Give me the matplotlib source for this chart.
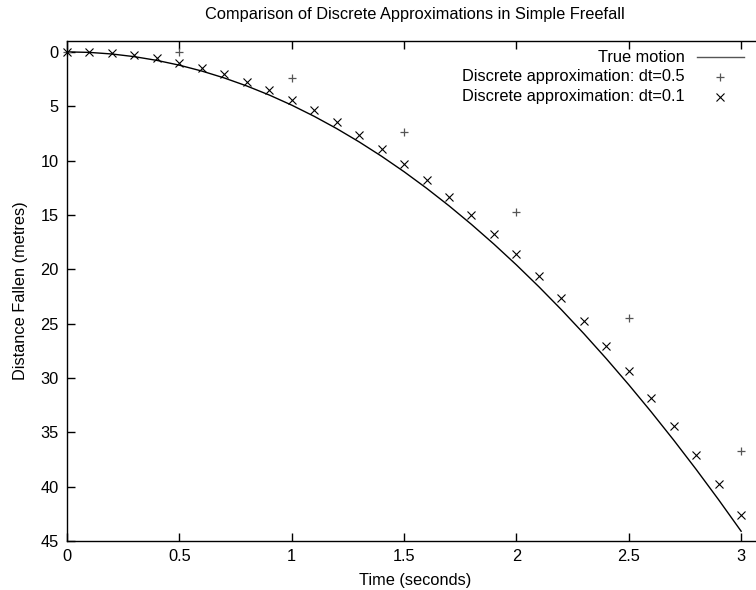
import matplotlib
matplotlib.use("Agg")
import matplotlib.pyplot as plt
from matplotlib.lines import Line2D

plt.rcParams['font.family'] = ['Liberation Sans', 'DejaVu Sans']

# True motion curve (sampled every 0.1 s)
t_true = [0.0, 0.1, 0.2, 0.3, 0.4, 0.5, 0.6, 0.7, 0.8, 0.9, 1.0,
          1.1, 1.2, 1.3, 1.4, 1.5, 1.6, 1.7, 1.8, 1.9, 2.0,
          2.1, 2.2, 2.3, 2.4, 2.5, 2.6, 2.7, 2.8, 2.9, 3.0]
y_true = [0.0, 0.049, 0.196, 0.441, 0.784, 1.225, 1.764, 2.401, 3.136, 3.969, 4.9,
          5.929, 7.056, 8.281, 9.604, 11.025, 12.544, 14.161, 15.876, 17.689, 19.6,
          21.609, 23.716, 25.921, 28.224, 30.625, 33.124, 35.721, 38.416, 41.209, 44.1]

# Discrete approximation dt=0.5
t_05 = [0.0, 0.5, 1.0, 1.5, 2.0, 2.5, 3.0]
y_05 = [0.0, 0.0, 2.45, 7.35, 14.7, 24.5, 36.75]

# Discrete approximation dt=0.1
t_01 = [0.0, 0.1, 0.2, 0.3, 0.4, 0.5, 0.6, 0.7, 0.8, 0.9, 1.0,
        1.1, 1.2, 1.3, 1.4, 1.5, 1.6, 1.7, 1.8, 1.9, 2.0,
        2.1, 2.2, 2.3, 2.4, 2.5, 2.6, 2.7, 2.8, 2.9, 3.0]
y_01 = [0.0, 0.0, 0.098, 0.294, 0.588, 0.98, 1.47, 2.058, 2.744, 3.528, 4.41,
        5.39, 6.468, 7.644, 8.918, 10.29, 11.76, 13.328, 14.994, 16.758, 18.62,
        20.58, 22.638, 24.794, 27.048, 29.4, 31.85, 34.398, 37.044, 39.788, 42.63]

xticks = [0, 0.5, 1, 1.5, 2, 2.5, 3]
xticklabels = ['0', '0.5', '1', '1.5', '2', '2.5', '3']
yticks = [0, 5, 10, 15, 20, 25, 30, 35, 40, 45]

labels = ['True motion', 'Discrete approximation: dt=0.5', 'Discrete approximation: dt=0.1']

FS = 11.8
MS = 5.5

W, H = 756, 590
fig = plt.figure(figsize=(W / 100, H / 100), dpi=100)
ax = fig.add_axes([67 / W, 49 / H, (763.6 - 67) / W, 500 / H])

ax.plot(t_true, y_true, color='black', lw=1.0, clip_on=False)
ax.plot(t_05, y_05, ls='none', marker='+', ms=MS, mew=0.9, color='#555555', clip_on=False)
ax.plot(t_01, y_01, ls='none', marker='x', ms=MS, mew=0.8, color='black', clip_on=False)

ax.set_xlim(0, 3.1)
ax.set_ylim(45, -1)
ax.set_xticks(xticks)
ax.set_xticklabels(xticklabels)
ax.set_yticks(yticks)
ax.tick_params(direction='in', length=6, width=1, top=True, right=True,
               labelsize=FS, pad=6, colors='black')
for s in ax.spines.values():
    s.set_linewidth(1)

ax.set_xlabel('Time (seconds)', fontsize=FS, labelpad=6)
ax.set_ylabel('Distance Fallen (metres)', fontsize=FS, labelpad=9)
fig.text(415 / W, 1 - 15 / H, 'Comparison of Discrete Approximations in Simple Freefall',
         ha='center', va='center', fontsize=FS)

# Manual gnuplot-style key
def fx(px):
    return (px - 67) / 696.6

def fy(py):
    return 1 - (py - 41) / 500

rows = [57, 77, 97]
for lab, ry in zip(labels, rows):
    ax.text(fx(685), fy(ry), lab, transform=ax.transAxes, ha='right', va='center', fontsize=FS)
ax.add_line(Line2D([fx(697), fx(744)], [fy(rows[0]), fy(rows[0])], transform=ax.transAxes,
                   color='#555555', lw=1.0))
ax.add_line(Line2D([fx(720)], [fy(rows[1])], transform=ax.transAxes, ls='none', marker='+',
                   ms=MS, mew=0.9, color='#555555'))
ax.add_line(Line2D([fx(720)], [fy(rows[2])], transform=ax.transAxes, ls='none', marker='x',
                   ms=MS, mew=0.8, color='black'))

fig.savefig('out.png', dpi=100)
